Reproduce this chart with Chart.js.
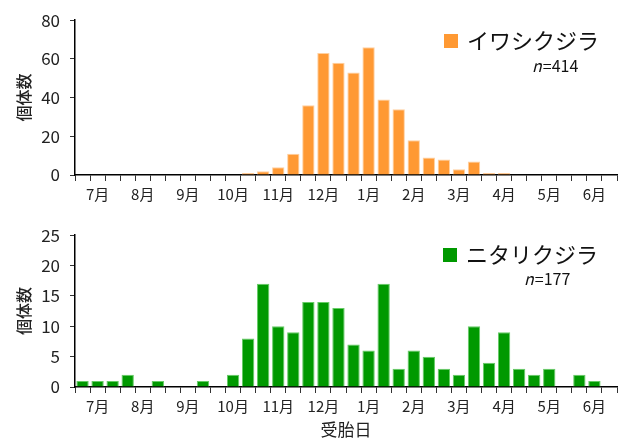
<!DOCTYPE html>
<html>
<head>
<meta charset="utf-8">
<script src="https://cdn.jsdelivr.net/npm/chart.js@4.4.0/dist/chart.umd.min.js"></script>
<style>
  body { margin: 0; background: #fff; }
  .box { position: absolute; left: 0; width: 622px; }
</style>
</head>
<body>
<div class="box" style="top:0;height:215px"><canvas id="iwashi" width="622" height="215"></canvas></div>
<div class="box" style="top:215px;height:231px"><canvas id="nitari" width="622" height="231"></canvas></div>
<script>
// 36 bins: each month split in 3 (上旬 / 中旬 / 下旬), July -> June
const months = ['7月', '8月', '9月', '10月', '11月', '12月', '1月', '2月', '3月', '4月', '5月', '6月']
const binLabels = []
months.forEach(m => { binLabels.push('', m, '') })

const iwashiCounts = [0, 0, 0, 0, 0, 0, 0, 0, 0, 0, 0, 1, 2, 4, 11, 36, 63, 58,
  53, 66, 39, 34, 18, 9, 8, 3, 7, 1, 1, 0, 0, 0, 0, 0, 0, 0]
const nitariCounts = [1, 1, 1, 2, 0, 1, 0, 0, 1, 0, 2, 8, 17, 10, 9, 14, 14, 13,
  7, 6, 17, 3, 6, 5, 3, 2, 10, 4, 9, 3, 2, 3, 0, 2, 1, 0]

const FONT = "'Noto Sans CJK JP', 'Noto Sans', sans-serif"
Chart.defaults.font.family = FONT
Chart.defaults.color = '#222'

// legend drawn at the upper right like the original figure
const speciesLegend = {
  id: 'speciesLegend',
  afterDraw(chart, args, opts) {
    const ctx = chart.ctx
    ctx.save()
    ctx.fillStyle = opts.color
    ctx.fillRect(opts.x, opts.y, 14, 14)
    ctx.fillStyle = '#111'
    ctx.textBaseline = 'middle'
    ctx.font = '22px ' + FONT
    ctx.fillText(opts.label, opts.x + 23, opts.y + 7)
    ctx.font = 'italic 16px ' + FONT
    ctx.fillText('n', opts.nx, opts.ny)
    const w = ctx.measureText('n').width
    ctx.font = '16px ' + FONT
    ctx.fillText('=' + opts.n, opts.nx + w + 1, opts.ny)
    ctx.restore()
  }
}

function makeChart(id, counts, color, border, yMax, yStep, labelStep, xHeight, padTop, legend, showTitle) {
  return new Chart(document.getElementById(id), {
    type: 'bar',
    data: {
      labels: binLabels,
      datasets: [{
        data: counts,
        backgroundColor: color,
        borderColor: border,
        borderWidth: 1,
        barPercentage: 0.82,
        categoryPercentage: 1
      }]
    },
    options: {
      responsive: false,
      animation: false,
      layout: { padding: { left: 0, right: 5, top: padTop, bottom: 0 } },
      plugins: {
        legend: { display: false },
        tooltip: { enabled: false },
        speciesLegend: legend
      },
      scales: {
        x: {
          grid: { drawOnChartArea: false, offset: true, tickLength: 6, color: '#333' },
          border: { color: '#000', width: 1.5 },
          ticks: { autoSkip: false, maxRotation: 0, minRotation: 0, font: { size: 15 }, padding: 4 },
          title: { display: showTitle, text: '受胎日', font: { size: 17 }, padding: { top: 0, bottom: 6 } },
          afterFit(scale) { scale.height = xHeight }
        },
        y: {
          min: 0,
          max: yMax,
          grid: { drawOnChartArea: false, tickLength: 5, color: '#333' },
          border: { color: '#000', width: 1.5 },
          ticks: {
            stepSize: yStep,
            font: { size: 17 },
            padding: 10,
            callback: v => (v % labelStep === 0 ? v : '')
          },
          title: { display: true, text: '個体数', font: { size: 16, weight: '500' }, padding: { top: 14, bottom: 0 } },
          afterFit(scale) { scale.width = 75 }
        }
      }
    },
    plugins: [speciesLegend]
  })
}

makeChart('iwashi', iwashiCounts, '#FF9933', '#FFD0A0', 80, 10, 20, 40, 19,
  { color: '#FF9933', label: 'イワシクジラ', n: 414, x: 444, y: 34, nx: 532, ny: 66 }, false)

makeChart('nitari', nitariCounts, '#009900', '#66CC66', 25, 5, 5, 59, 10,
  { color: '#009900', label: 'ニタリクジラ', n: 177, x: 443, y: 33, nx: 524, ny: 64 }, true)
</script>
</body>
</html>
